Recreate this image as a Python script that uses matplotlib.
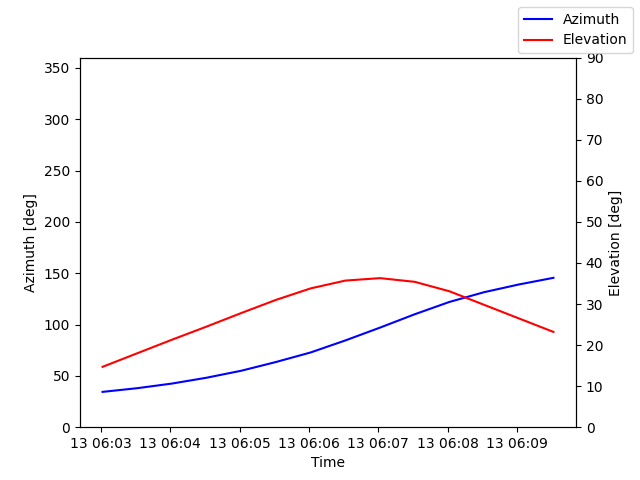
import pandas as pd
import matplotlib
matplotlib.use('Agg')
import matplotlib.pyplot as plt

# Pass samples, one every 30 s
times = pd.date_range('2024-01-13 06:03:01.5', periods=14, freq='30s')
azimuth = [34.4, 38.0, 42.5, 48.2, 55.0, 63.5, 72.8, 84.5, 97.0, 110.0, 122.0, 131.5, 139.0, 145.5]
elevation = [14.7, 18.0, 21.3, 24.5, 27.8, 31.0, 33.8, 35.7, 36.3, 35.4, 33.1, 29.8, 26.5, 23.2]

fig, ax1 = plt.subplots(figsize=(6.4, 4.8), dpi=100)
ax1.plot(times, azimuth, color='blue', label='Azimuth')
ax1.set_xlabel('Time')
ax1.set_ylabel('Azimuth [deg]')
ax1.set_ylim(0, 360)

ax2 = ax1.twinx()
ax2.plot(times, elevation, color='red', label='Elevation')
ax2.set_ylabel('Elevation [deg]')
ax2.set_ylim(0, 90)

fig.legend()

plt.savefig('out.png')
